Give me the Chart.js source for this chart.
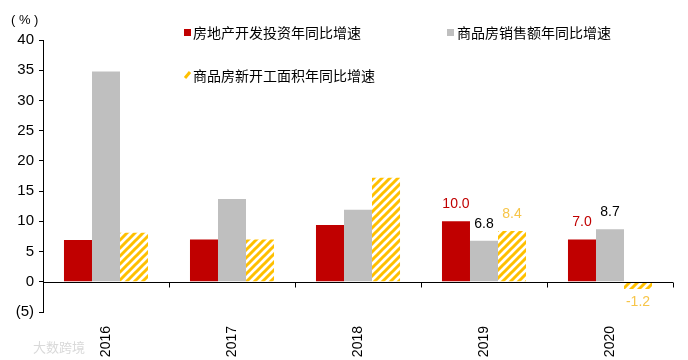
<!DOCTYPE html>
<html>
<head>
<meta charset="utf-8">
<script src="https://cdn.jsdelivr.net/npm/chart.js@4.4.0/dist/chart.umd.min.js"></script>
<style>
  html, body { margin: 0; padding: 0; background: #fff; }
  #wrap { width: 688px; height: 360px; }
</style>
</head>
<body>
<div id="wrap"><canvas id="myChart" width="688" height="360"></canvas></div>
<script>
// data
const years = ["2016", "2017", "2018", "2019", "2020"];
const investGrowth = [6.9, 7.0, 9.4, 10.0, 7.0];
const salesGrowth = [34.8, 13.7, 11.9, 6.8, 8.7];
const startsGrowth = [8.1, 7.0, 17.2, 8.4, -1.2];
const seriesNames = ["房地产开发投资年同比增速", "商品房销售额年同比增速", "商品房新开工面积年同比增速"];
const labelledYears = ["2019", "2020"];
const yMin = -5, yMax = 40, yStep = 5;

const RED = "#C00000";
const GREY = "#BFBFBF";
const YELLOW = "#FFC000";
const numFont = "'Liberation Sans', Arial, sans-serif";
const cjkFont = "'Noto Sans CJK SC', sans-serif";

// diagonal stripes for the third series
function makeHatch() {
    const c = document.createElement("canvas");
    c.width = 8; c.height = 8;
    const g = c.getContext("2d");
    g.fillStyle = "#fff";
    g.fillRect(0, 0, 8, 8);
    g.strokeStyle = YELLOW;
    g.lineWidth = 3;
    g.beginPath();
    g.moveTo(-2, 10); g.lineTo(10, -2);
    g.moveTo(-6, 6); g.lineTo(6, -6);
    g.moveTo(2, 14); g.lineTo(14, 2);
    g.stroke();
    return g.createPattern(c, "repeat");
}

const ctx = document.getElementById("myChart");
const hatch = makeHatch();

// legend, unit label, watermark, zero line and value labels
const extras = {
    id: "extras",
    afterDatasetsDraw(chart) {
        const c = chart.ctx;
        const y = chart.scales.y;
        const area = chart.chartArea;
        c.save();

        // zero line + category ticks
        const y0 = Math.round(y.getPixelForValue(0)) + 0.5;
        c.strokeStyle = "#000";
        c.lineWidth = 1;
        c.beginPath();
        c.moveTo(area.left, y0);
        c.lineTo(area.right, y0);
        const step = (area.right - area.left) / years.length;
        for (let i = 1; i <= years.length; i++) {
            const px = Math.round(area.left + i * step) + 0.5;
            c.moveTo(px, y0);
            c.lineTo(px, y0 + 5);
        }
        c.stroke();

        // value labels
        const labelColors = [RED, "#000", "#F7C548"];
        c.font = "14px " + numFont;
        c.textAlign = "center";
        c.textBaseline = "middle";
        chart.data.datasets.forEach((ds, di) => {
            const meta = chart.getDatasetMeta(di);
            years.forEach((yr, i) => {
                if (!labelledYears.includes(yr)) return;
                const el = meta.data[i];
                const v = ds.data[i];
                c.fillStyle = labelColors[di];
                const ty = v >= 0 ? el.y - 17 : el.y + 13;
                c.fillText(v.toFixed(1), el.x, ty);
            });
        });

        // legend
        c.textAlign = "left";
        c.font = "14px " + cjkFont;
        c.fillStyle = RED;
        c.fillRect(184, 29, 7, 7);
        c.fillStyle = "#000";
        c.fillText(seriesNames[0], 193, 33);
        c.fillStyle = GREY;
        c.fillRect(447, 29, 7, 7);
        c.fillStyle = "#000";
        c.fillText(seriesNames[1], 457, 33);
        c.strokeStyle = YELLOW;
        c.lineWidth = 3;
        c.beginPath();
        c.moveTo(185, 78);
        c.lineTo(190, 72);
        c.stroke();
        c.fillStyle = "#000";
        c.fillText(seriesNames[2], 193, 76);

        // unit
        c.font = "13px " + numFont;
        c.fillText("( % )", 11, 20);

        // watermark
        c.font = "13px " + cjkFont;
        c.fillStyle = "#d9d9d9";
        c.fillText("大数跨境", 33, 347);

        c.restore();
    }
};

new Chart(ctx, {
    type: "bar",
    data: {
        labels: years,
        datasets: [
            { label: seriesNames[0], data: investGrowth, backgroundColor: RED },
            { label: seriesNames[1], data: salesGrowth, backgroundColor: GREY },
            { label: seriesNames[2], data: startsGrowth, backgroundColor: hatch }
        ]
    },
    options: {
        responsive: false,
        animation: false,
        devicePixelRatio: 1,
        layout: { padding: { top: 40, right: 15, left: 0, bottom: 0 } },
        datasets: {
            bar: { categoryPercentage: 0.667, barPercentage: 1, borderWidth: 0 }
        },
        plugins: {
            legend: { display: false },
            tooltip: { enabled: false }
        },
        scales: {
            x: {
                grid: { display: false },
                border: { display: false },
                ticks: {
                    color: "#000",
                    font: { family: numFont, size: 14 },
                    maxRotation: 90,
                    minRotation: 90,
                    padding: 6
                },
                afterFit: s => { s.height = 48; }
            },
            y: {
                min: yMin,
                max: yMax,
                ticks: {
                    stepSize: yStep,
                    color: "#000",
                    padding: 5,
                    font: { family: numFont, size: 15 },
                    callback: v => v < 0 ? "(" + (-v) + ")" : v
                },
                grid: {
                    color: "rgba(0,0,0,0)",
                    tickColor: "#000",
                    tickLength: 4,
                    drawOnChartArea: false
                },
                border: { display: true, color: "#000", width: 1 },
                afterFit: s => { s.width = 43; }
            }
        }
    },
    plugins: [extras]
});
</script>
</body>
</html>
